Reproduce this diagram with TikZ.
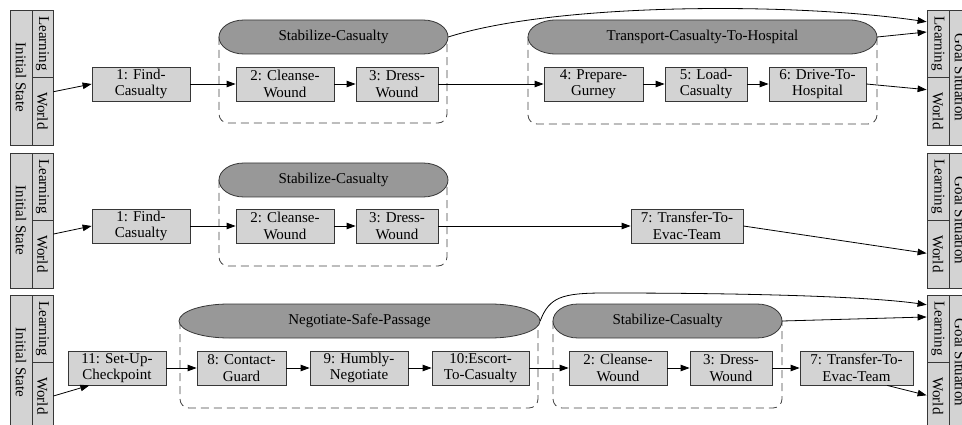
\documentclass[tikz,border=0pt]{standalone}
\usepackage{fontspec}
\setmainfont{Liberation Serif}
\usepackage{graphicx}
\usetikzlibrary{arrows.meta,calc}
\definecolor{boxgray}{RGB}{211,211,211}
\definecolor{capgray}{RGB}{152,152,152}
\definecolor{edgegray}{RGB}{55,55,55}
\definecolor{dashgray}{RGB}{70,70,70}
\newcommand\drawcapsule[4]{%
  \path[capshape] (#1+#4,#3-17) -- (#2-#4,#3-17)
    arc[start angle=-90,end angle=90,x radius=#4,y radius=17]
    -- (#1+#4,#3+17)
    arc[start angle=90,end angle=270,x radius=#4,y radius=17] -- cycle;}
\tikzset{
  txt/.style={font=\fontsize{15}{16.5}\selectfont},
  act/.style={txt, draw=edgegray, fill=boxgray, line width=0.8pt, minimum height=34pt, inner sep=0pt, align=center},
  cell/.style={txt, draw=edgegray, fill=boxgray, line width=0.8pt, inner sep=0pt},
  capshape/.style={draw=edgegray, fill=capgray, line width=0.8pt},
  caplabel/.style={txt, inner sep=0pt, minimum height=34pt},
  grpbox/.style={draw=dashgray, dash pattern=on 8pt off 5pt, line width=0.8pt, rounded corners=9pt},
  conn/.style={line width=0.8pt, -{Triangle[length=9pt,width=6.5pt]}},
}
\begin{document}
\begin{tikzpicture}[x=1pt,y=-1pt]
\clip (0,0) rectangle (962,425);
\fill[white] (0,0) rectangle (962,425);

% side panels
\foreach \T/\r in {10/1,153/2,295/3}{
  \node[cell, minimum width=22pt, minimum height=135pt] (li\r) at (21,\T+67.5) {\rotatebox{-90}{Initial State}};
  \node[cell, minimum width=21pt, minimum height=67pt] (ll\r) at (42.5,\T+33.5) {\rotatebox{-90}{Learning}};
  \node[cell, minimum width=21pt, minimum height=68pt] (lw\r) at (42.5,\T+101) {\rotatebox{-90}{World}};
  \node[cell, minimum width=22pt, minimum height=135pt] (rg\r) at (960,\T+67.5) {\rotatebox{-90}{Goal Situation}};
  \node[cell, minimum width=22pt, minimum height=67pt] (rl\r) at (938,\T+33.5) {\rotatebox{-90}{Learning}};
  \node[cell, minimum width=22pt, minimum height=68pt] (rw\r) at (938,\T+101) {\rotatebox{-90}{World}};
}

% ---------- row 1 ----------
\draw[grpbox] (219,37) |- (333,123) -| (447,37);
\draw[grpbox] (528,37) |- (700,124) -| (877,37);
\drawcapsule{219}{448}{37}{25}
\node[caplabel, minimum width=229pt] (sa1) at (333.5,37) {Stabilize-Casualty};
\drawcapsule{528}{877}{37}{28}
\node[caplabel, minimum width=349pt] (tr1) at (702.5,37) {Transport-Casualty-To-Hospital};

\node[act, minimum width=98pt] (fa1) at (141,84) {1: Find-\\Casualty};
\node[act, minimum width=98pt] (cw1) at (285,84) {2: Cleanse-\\Wound};
\node[act, minimum width=82pt] (dw1) at (397,84) {3: Dress-\\Wound};
\node[act, minimum width=99pt] (pg1) at (593.5,84) {4: Prepare-\\Gurney};
\node[act, minimum width=82pt] (lc1) at (706,84) {5: Load-\\Casualty};
\node[act, minimum width=97pt] (dh1) at (817.5,84) {6: Drive-To-\\Hospital};

\draw[conn] ($(lw1.north east)!0.22!(lw1.south east)$) -- (fa1.west);
\draw[conn] (fa1) -- (cw1);
\draw[conn] (cw1) -- (dw1);
\draw[conn] (dw1) -- (pg1);
\draw[conn] (pg1) -- (lc1);
\draw[conn] (lc1) -- (dh1);
\draw[conn] (dh1.east) -- ($(rw1.north west)!0.19!(rw1.south west)$);
\draw[conn] (sa1.east) .. controls (555,3) and (790,2) .. ($(rl1.north west)!0.18!(rl1.south west)$);
\draw[conn] (tr1.east) -- ($(rl1.north west)!0.33!(rl1.south west)$);

% ---------- row 2 ----------
\draw[grpbox] (219,180) |- (333,266) -| (447,180);
\drawcapsule{219}{448}{180}{25}
\node[caplabel, minimum width=229pt] (sa2) at (333.5,180) {Stabilize-Casualty};

\node[act, minimum width=98pt] (fa2) at (141,226) {1: Find-\\Casualty};
\node[act, minimum width=98pt] (cw2) at (285,226) {2: Cleanse-\\Wound};
\node[act, minimum width=82pt] (dw2) at (397,226) {3: Dress-\\Wound};
\node[act, minimum width=112pt] (te2) at (687,226) {7: Transfer-To-\\Evac-Team};

\draw[conn] ($(lw2.north east)!0.21!(lw2.south east)$) -- (fa2.west);
\draw[conn] (fa2) -- (cw2);
\draw[conn] (cw2) -- (dw2);
\draw[conn] (dw2) -- (te2);
\draw[conn] (te2.east) -- ($(rw2.north west)!0.49!(rw2.south west)$);

% ---------- row 3 ----------
\draw[grpbox] (180,321) |- (360,408) -| (538,321);
\draw[grpbox] (553,321) |- (668,408) -| (782,321);
\drawcapsule{179}{540}{321}{50}
\node[caplabel, minimum width=361pt] (ns3) at (359.5,321) {Negotiate-Safe-Passage};
\drawcapsule{553}{782}{321}{25}
\node[caplabel, minimum width=229pt] (sa3) at (667.5,321) {Stabilize-Casualty};

\node[act, minimum width=98pt] (sc3) at (117,368) {11: Set-Up-\\Checkpoint};
\node[act, minimum width=89pt] (cg3) at (241.5,368) {8: Contact-\\Guard};
\node[act, minimum width=98pt] (hn3) at (359,368) {9: Humbly-\\Negotiate};
\node[act, minimum width=97pt] (ec3) at (480.5,368) {10:Escort-\\To-Casualty};
\node[act, minimum width=98pt] (cw3) at (618,368) {2: Cleanse-\\Wound};
\node[act, minimum width=82pt] (dw3) at (731,368) {3: Dress-\\Wound};
\node[act, minimum width=113pt] (te3) at (856.5,368) {7: Transfer-To-\\Evac-Team};

\draw[conn] (lw3.east) -- ($(sc3.south west)!0.22!(sc3.south east)$);
\draw[conn] (sc3) -- (cg3);
\draw[conn] (cg3) -- (hn3);
\draw[conn] (hn3) -- (ec3);
\draw[conn] (ec3) -- (cw3);
\draw[conn] (cw3) -- (dw3);
\draw[conn] (dw3) -- (te3);
\draw[conn] (ns3.east) .. controls +(9,-24) and (562,293) .. (605,293)
   .. controls (760,293) and (872,297) .. ($(rl3.north west)!0.15!(rl3.south west)$);
\draw[conn] (sa3.east) -- ($(rl3.north west)!0.33!(rl3.south west)$);
\draw[conn] ($(te3.south west)!0.77!(te3.south east)$) -- ($(rw3.north west)!0.49!(rw3.south west)$);
\end{tikzpicture}
\end{document}
